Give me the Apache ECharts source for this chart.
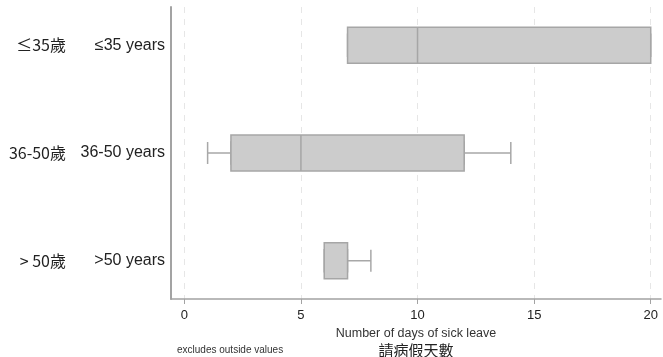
<!DOCTYPE html>
<html>
<head>
<meta charset="utf-8">
<script src="https://cdn.jsdelivr.net/npm/echarts@6/dist/echarts.min.js"></script>
<style>html,body{margin:0;padding:0;background:#fff}#c{width:663px;height:357px}</style>
</head>
<body>
<div id="c"></div>
<script>
// Groups, listed top to bottom as in the chart
const zhLabels = ['≤35歲', '36-50歲', '> 50歲'];
const enLabels = ['≤35 years', '36-50 years', '>50 years'];
// Box statistics (days of sick leave)
const lowerWhisker = [7, 1, 6];
const q1Values = [7, 2, 6];
const medians = [10, 5, 7];
const q3Values = [20, 12, 7];
const upperWhisker = [20, 14, 8];
const xTicks = [0, 5, 10, 15, 20];

const n = zhLabels.length;
const pos = i => n - 1 - i; // bottom group = 0
const boxData = zhLabels.map((_, i) => [pos(i), q1Values[i], q1Values[i], medians[i], q3Values[i], q3Values[i]]);
const whiskerData = zhLabels.map((_, i) => [pos(i), lowerWhisker[i], q1Values[i], medians[i], q3Values[i], upperWhisker[i]]);
const labelAt = v => { const i = n - 1 - Math.round(v); return '{a|' + zhLabels[i] + '}{b|' + enLabels[i] + '}'; };

const gray = '#a3a3a3';
const chart = echarts.init(document.getElementById('c'), null, {renderer: 'canvas'});
const yCommon = {
  type: 'value', min: -0.355, max: 2.355,
  splitLine: {show: false}, axisTick: {show: false}
};
chart.setOption({
  animation: false,
  grid: {left: 171, right: 2, top: 7, bottom: 58, containLabel: false, outerBoundsMode: 'none'},
  title: {
    text: 'excludes outside values', left: 172, top: 340,
    textStyle: {fontSize: 10, fontWeight: 'normal', color: '#333', fontFamily: 'Liberation Sans'}
  },
  xAxis: {
    type: 'value', min: -0.57, max: 20.44,
    axisLine: {show: true, onZero: false, lineStyle: {color: gray, width: 1.5}},
    axisTick: {show: true, customValues: xTicks, length: 5, lineStyle: {color: gray, width: 1}},
    axisLabel: {customValues: xTicks, color: '#222', fontSize: 13, fontFamily: 'Liberation Sans', margin: 10},
    splitLine: {show: true, lineStyle: {color: '#e6e6e6', type: [6, 6], width: 1}},
    name: '{en|Number of days of sick leave}\n{zh|請病假天數}',
    nameLocation: 'middle', nameGap: 23,
    nameTextStyle: {
      rich: {
        en: {fontSize: 12.5, color: '#333', fontFamily: 'Liberation Sans', lineHeight: 16},
        zh: {fontSize: 15, color: '#222', fontFamily: 'Noto Sans CJK TC', lineHeight: 17}
      }
    }
  },
  yAxis: [
    Object.assign({}, yCommon, {
      axisLine: {show: true, onZero: false, lineStyle: {color: gray, width: 2}},
      axisLabel: {
        customValues: [0, 1, 2], margin: 6, formatter: labelAt,
        rich: {
          a: {fontSize: 16, color: '#222', fontFamily: 'Noto Sans CJK TC', width: 72, align: 'right'},
          b: {fontSize: 16, color: '#222', fontFamily: 'Liberation Sans', width: 99, align: 'right'}
        }
      }
    }),
    Object.assign({}, yCommon, {show: false})
  ],
  series: [
    {
      type: 'boxplot', layout: 'vertical', yAxisIndex: 1, boxWidth: [22, 22], z: 2,
      itemStyle: {color: '#cccccc', borderColor: '#a8a8a8', borderWidth: 1.5},
      data: whiskerData
    },
    {
      type: 'boxplot', layout: 'vertical', yAxisIndex: 0, boxWidth: [36, 36], z: 3,
      itemStyle: {color: '#cccccc', borderColor: '#a6a6a6', borderWidth: 1.5},
      data: boxData
    }
  ]
});
</script>
</body>
</html>
